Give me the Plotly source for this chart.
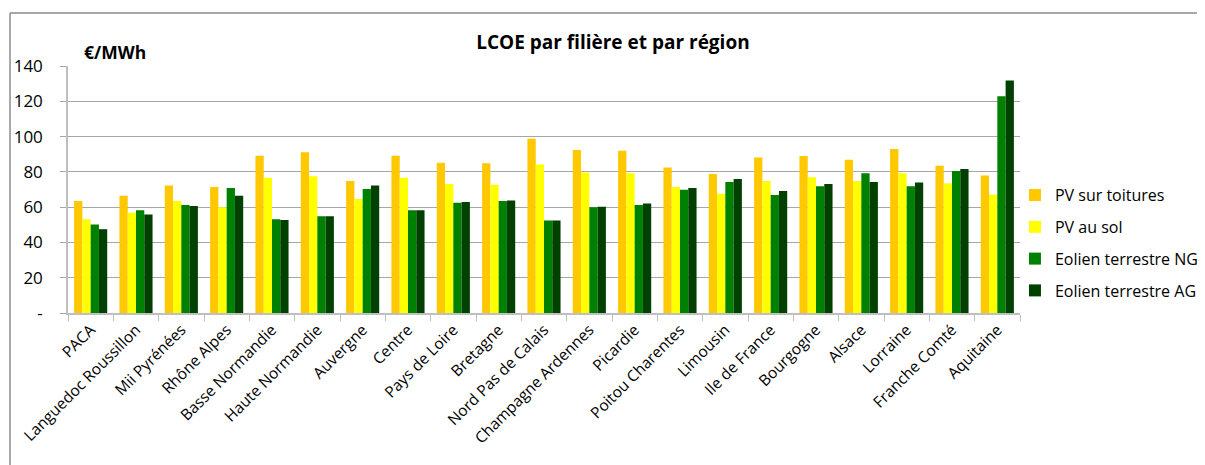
import plotly.graph_objects as go

regions = ["PACA", "Languedoc Roussillon", "Mii Pyrénées", "Rhône Alpes", "Basse Normandie",
           "Haute Normandie", "Auvergne", "Centre", "Pays de Loire", "Bretagne",
           "Nord Pas de Calais", "Champagne Ardennes", "Picardie", "Poitou Charentes",
           "Limousin", "Ile de France", "Bourgogne", "Alsace", "Lorraine",
           "Franche Comté", "Aquitaine"]

pv_toitures = [63.5, 66.5, 72.2, 71.4, 89.2, 91.1, 74.8, 89.2, 85.2, 84.9, 98.7,
               92.4, 91.9, 82.4, 78.8, 88.1, 89.0, 86.8, 93.0, 83.5, 77.9]
pv_sol = [53.2, 56.8, 63.5, 59.9, 76.7, 77.5, 64.6, 76.7, 73.1, 72.7, 84.1,
          79.6, 79.2, 71.4, 67.6, 74.8, 77.0, 74.8, 79.2, 73.5, 67.1]
eolien_ng = [50.2, 58.2, 61.2, 70.8, 53.2, 54.9, 70.3, 58.3, 62.5, 63.5, 52.5,
             60.0, 61.2, 69.9, 74.3, 66.9, 71.8, 79.2, 71.8, 80.5, 122.8]
eolien_ag = [47.5, 55.9, 60.6, 66.5, 52.7, 54.9, 72.2, 58.3, 62.9, 63.8, 52.5,
             60.2, 62.1, 70.8, 76.0, 69.1, 73.1, 74.3, 73.9, 81.6, 131.8]

series_names = ["PV sur toitures", "PV au sol", "Eolien terrestre NG", "Eolien terrestre AG"]
series_values = [pv_toitures, pv_sol, eolien_ng, eolien_ag]
colors = ["#FFC800", "#FFFF00", "#008000", "#004000"]

y_tickvals = [0, 20, 40, 60, 80, 100, 120, 140]
y_ticktext = ["-", "20", "40", "60", "80", "100", "120", "140"]

FONT = "Open Sans"

fig = go.Figure()
for i, (name, vals, col) in enumerate(zip(series_names, series_values, colors)):
    fig.add_trace(go.Bar(x=regions, y=vals, name=name, legendgroup=name,
                         marker=dict(color=col, line=dict(width=0))))

# page body has an 8px default margin: compensate so the chart lands where the reference has it
fig.update_layout(
    width=1205, height=465,
    margin=dict(l=60, r=193, t=58, b=160, autoexpand=False),
    paper_bgcolor="white", plot_bgcolor="white",
    font=dict(family=FONT, color="#000000", size=15),
    barmode="group", bargap=0.27, bargroupgap=0,
    title=dict(text="<b>LCOE par filière et par région</b>", x=0.502, xanchor="center",
               y=0.927, yanchor="middle", font=dict(size=19, family=FONT)),
    legend=dict(x=0.9947, xanchor="left", y=0.283, yanchor="middle",
                font=dict(size=16, family=FONT), tracegroupgap=8,
                itemwidth=30, bgcolor="rgba(0,0,0,0)"),
    showlegend=True,
)
fig.update_xaxes(showline=True, linecolor="#BFBFBF", linewidth=1.5, automargin=False,
                 ticks="outside", tickson="boundaries", ticklen=6, tickcolor="#BFBFBF",
                 tickangle=-45, tickfont=dict(size=15.5, family=FONT), showgrid=False)
fig.update_yaxes(range=[0, 140], tickvals=y_tickvals, ticktext=y_ticktext, automargin=False,
                 showline=True, linecolor="#BFBFBF", linewidth=1.5,
                 ticks="outside", ticklen=6, tickcolor="#A6A6A6", ticklabelstandoff=14,
                 showgrid=True, gridcolor="#A6A6A6", gridwidth=1, zeroline=False,
                 tickfont=dict(size=17, family=FONT))

fig.add_annotation(text="<b>€/MWh</b>", xref="paper", yref="paper", x=0.0147, y=1.057,
                   xanchor="left", yanchor="middle", showarrow=False,
                   font=dict(size=17.5, family=FONT))

# outer chart frame
fig.add_shape(type="line", xref="paper", yref="paper", x0=-0.0609, x1=1.25, y0=1.2146, y1=1.2146,
              line=dict(color="#8C8C8C", width=1.5))
fig.add_shape(type="line", xref="paper", yref="paper", x0=-0.0609, x1=-0.0609, y0=1.2146, y1=-0.7,
              line=dict(color="#8C8C8C", width=1.5))

fig.write_html("out.html")
